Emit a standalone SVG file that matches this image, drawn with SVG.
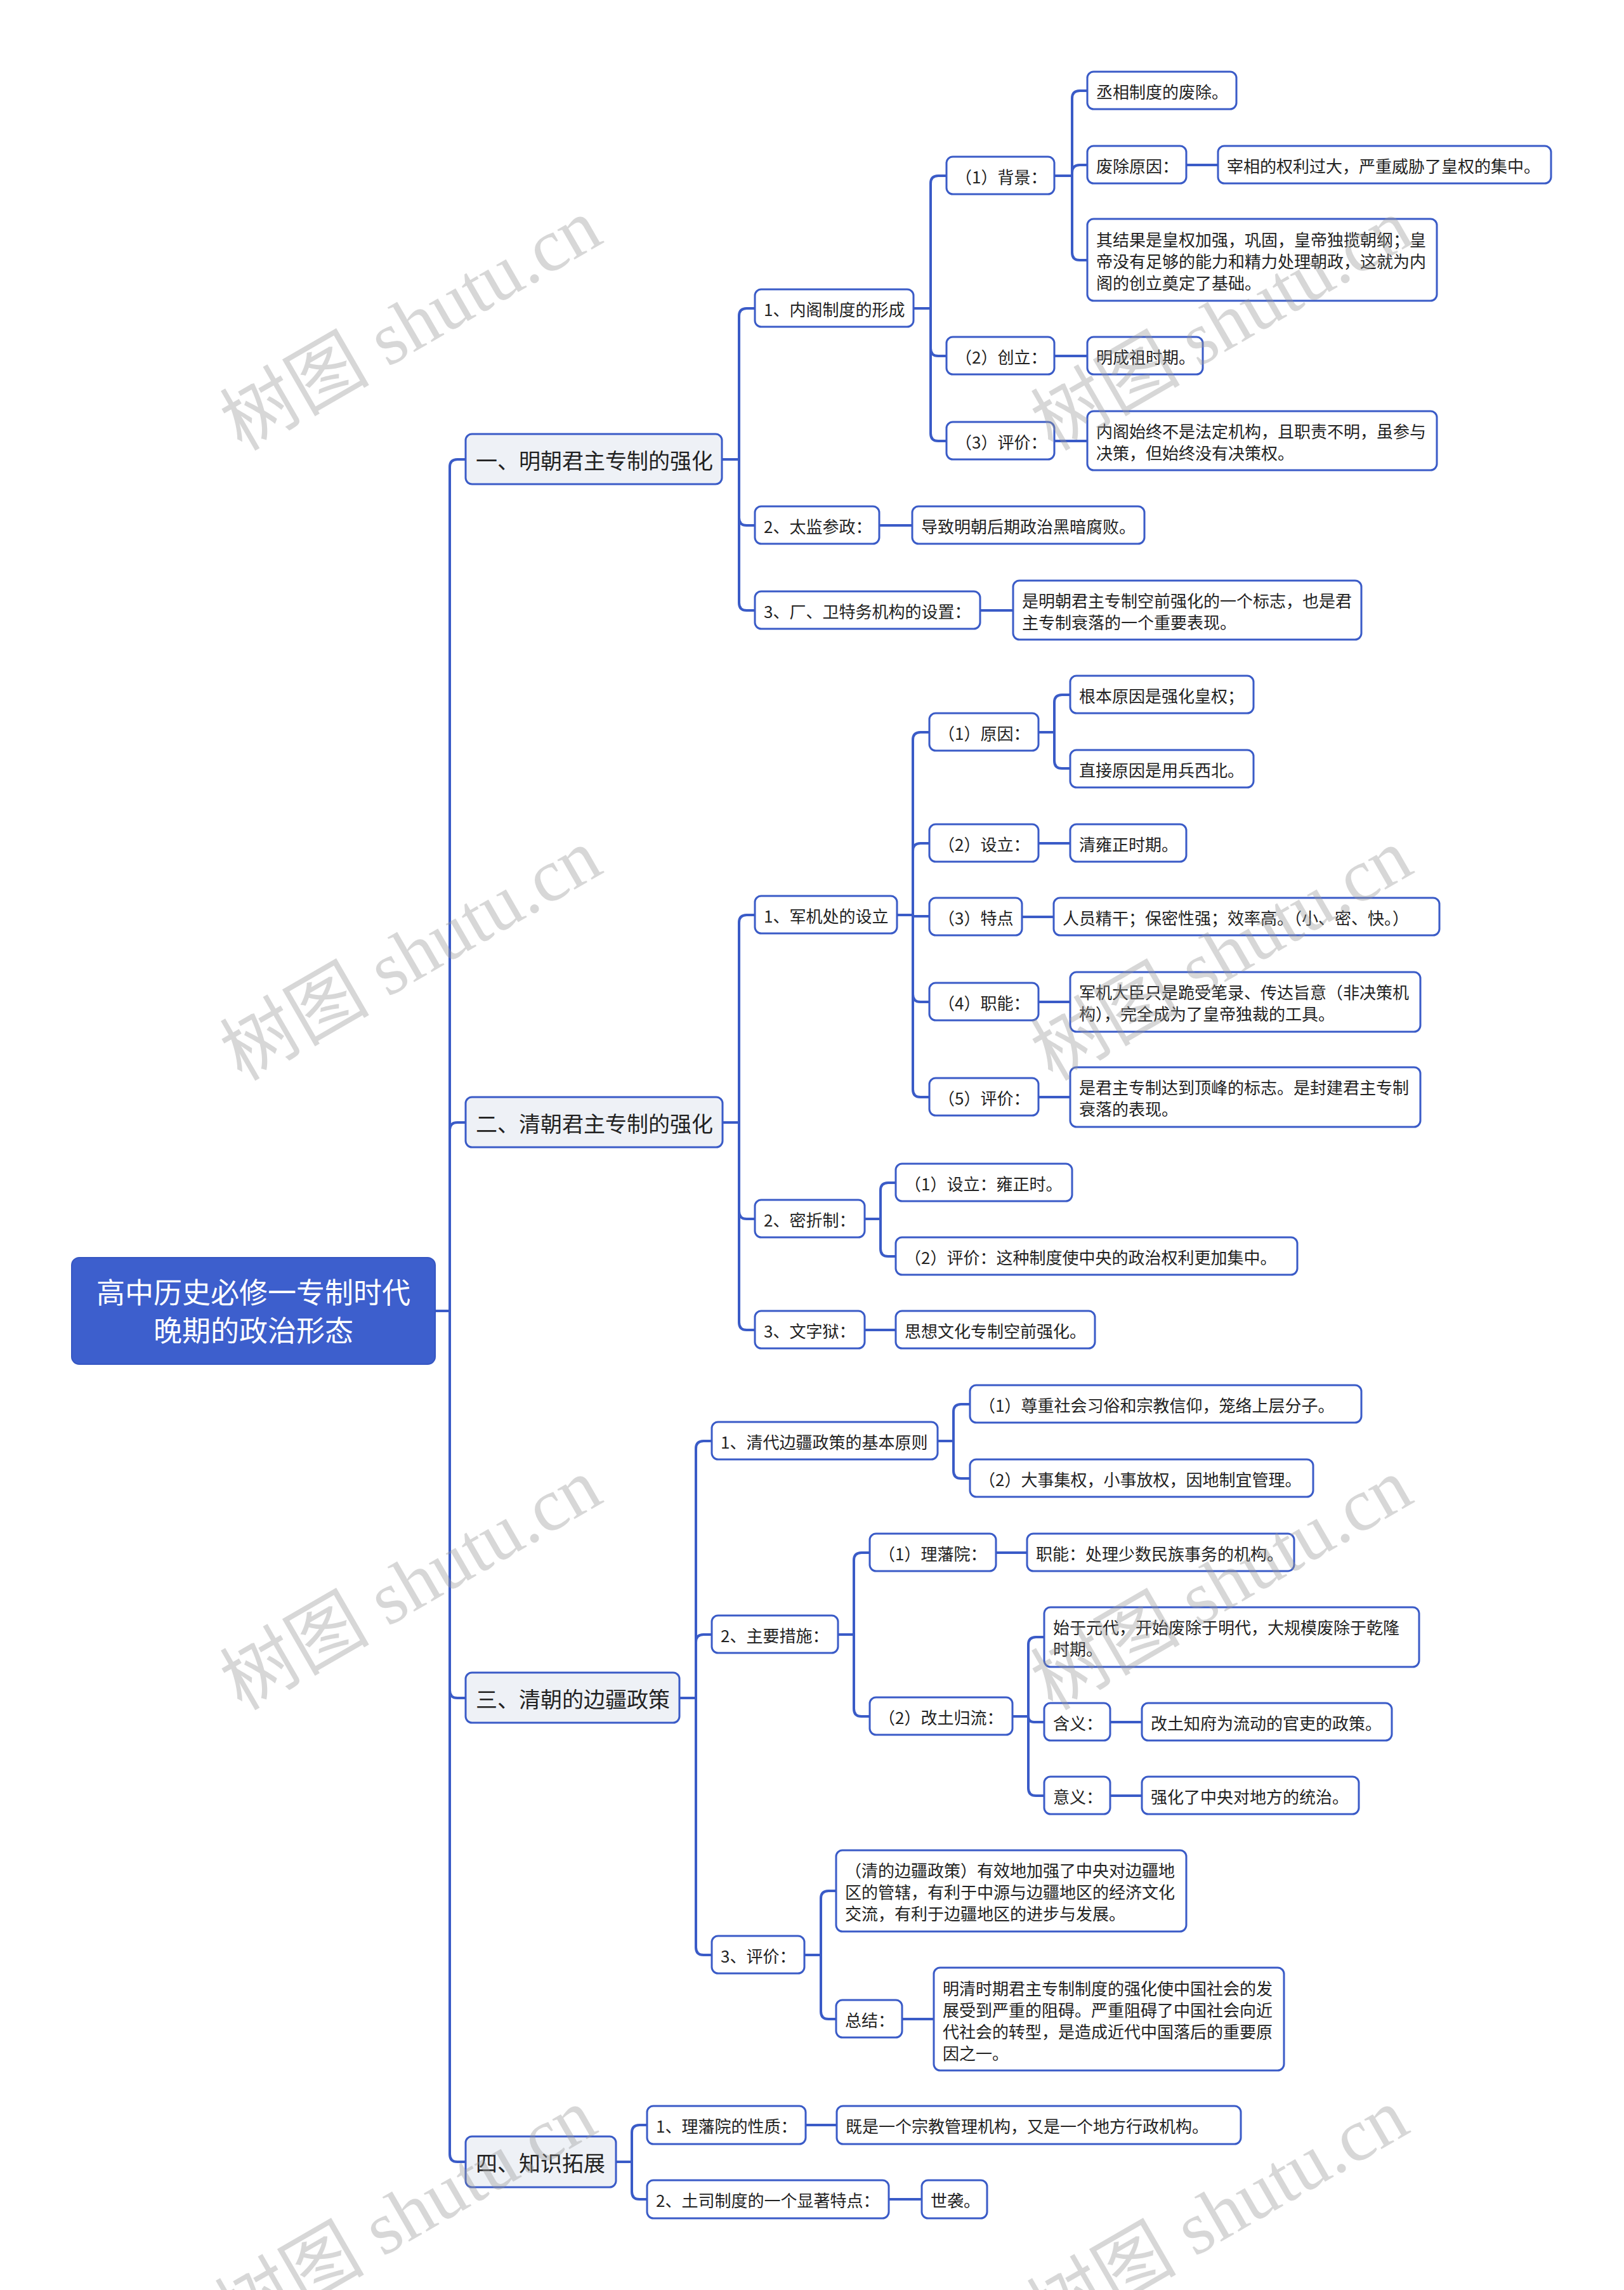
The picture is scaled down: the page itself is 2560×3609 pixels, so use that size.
<svg xmlns="http://www.w3.org/2000/svg" width="2560" height="3609" viewBox="0 0 2560 3609">
<style>
.ln{fill:none;stroke:#3a5bc7;stroke-width:4;stroke-linecap:round;stroke-linejoin:round}
.bx{fill:#ffffff;stroke:#3a5bc7;stroke-width:3}
.l1{fill:#eef1f6;stroke:#3a5bc7;stroke-width:3}
.rt{fill:#3d5fcd;stroke:#3556c2;stroke-width:2}
.t{font-family:"Noto Sans CJK SC","Microsoft YaHei",sans-serif;font-size:26px;fill:#222222;dominant-baseline:central}
.t1{font-size:34px}
.tr{font-size:45px;fill:#ffffff;text-anchor:middle}
.wm{font-family:"Liberation Serif","Noto Sans CJK SC",serif;font-size:118px;fill:#999999;opacity:0.38;text-anchor:middle;dominant-baseline:central}
</style>
<rect width="2560" height="3609" fill="#ffffff"/>
<g id="connectors">
<path class="ln" d="M686 2066H709"/>
<path class="ln" d="M709 2066V736Q709 724 721 724H734"/>
<path class="ln" d="M709 2066V1781Q709 1769 721 1769H734"/>
<path class="ln" d="M709 2066V2664Q709 2676 721 2676H734"/>
<path class="ln" d="M709 2066V3395Q709 3407 721 3407H734"/>
<path class="ln" d="M1138 724H1165"/>
<path class="ln" d="M1165 724V498Q1165 486 1177 486H1190"/>
<path class="ln" d="M1165 724V816Q1165 828 1177 828H1190"/>
<path class="ln" d="M1165 724V950Q1165 962 1177 962H1190"/>
<path class="ln" d="M1440 486H1467"/>
<path class="ln" d="M1467 486V289Q1467 277 1479 277H1492"/>
<path class="ln" d="M1467 486V549Q1467 561 1479 561H1492"/>
<path class="ln" d="M1467 486V683Q1467 695 1479 695H1492"/>
<path class="ln" d="M1662 277H1690"/>
<path class="ln" d="M1690 277V155Q1690 143 1702 143H1714"/>
<path class="ln" d="M1690 277V272Q1690 260 1702 260H1714"/>
<path class="ln" d="M1690 277V398Q1690 410 1702 410H1714"/>
<path class="ln" d="M1870 260H1920"/>
<path class="ln" d="M1662 561H1714"/>
<path class="ln" d="M1662 695H1714"/>
<path class="ln" d="M1386 828H1438"/>
<path class="ln" d="M1545 962H1597"/>
<path class="ln" d="M1139 1769H1165"/>
<path class="ln" d="M1165 1769V1454Q1165 1442 1177 1442H1190"/>
<path class="ln" d="M1165 1769V1909Q1165 1921 1177 1921H1190"/>
<path class="ln" d="M1165 1769V2084Q1165 2096 1177 2096H1190"/>
<path class="ln" d="M1414 1442H1439"/>
<path class="ln" d="M1439 1442V1166Q1439 1154 1451 1154H1465"/>
<path class="ln" d="M1439 1442V1341Q1439 1329 1451 1329H1465"/>
<path class="ln" d="M1439 1442V1444H1465"/>
<path class="ln" d="M1439 1442V1567Q1439 1579 1451 1579H1465"/>
<path class="ln" d="M1439 1442V1717Q1439 1729 1451 1729H1465"/>
<path class="ln" d="M1637 1154H1662"/>
<path class="ln" d="M1662 1154V1107Q1662 1095 1674 1095H1687"/>
<path class="ln" d="M1662 1154V1199Q1662 1211 1674 1211H1687"/>
<path class="ln" d="M1637 1329H1687"/>
<path class="ln" d="M1611 1445H1661"/>
<path class="ln" d="M1637 1579H1687"/>
<path class="ln" d="M1637 1729H1687"/>
<path class="ln" d="M1363 1921H1388"/>
<path class="ln" d="M1388 1921V1876Q1388 1864 1400 1864H1412"/>
<path class="ln" d="M1388 1921V1968Q1388 1980 1400 1980H1412"/>
<path class="ln" d="M1363 2096H1412"/>
<path class="ln" d="M1071 2676H1097"/>
<path class="ln" d="M1097 2676V2283Q1097 2271 1109 2271H1122"/>
<path class="ln" d="M1097 2676V2588Q1097 2576 1109 2576H1122"/>
<path class="ln" d="M1097 2676V3069Q1097 3081 1109 3081H1122"/>
<path class="ln" d="M1478 2271H1503"/>
<path class="ln" d="M1503 2271V2225Q1503 2213 1515 2213H1529"/>
<path class="ln" d="M1503 2271V2318Q1503 2330 1515 2330H1529"/>
<path class="ln" d="M1321 2576H1346"/>
<path class="ln" d="M1346 2576V2459Q1346 2447 1358 2447H1371"/>
<path class="ln" d="M1346 2576V2693Q1346 2705 1358 2705H1371"/>
<path class="ln" d="M1570 2447H1619"/>
<path class="ln" d="M1596 2705H1621"/>
<path class="ln" d="M1621 2705V2592Q1621 2580 1633 2580H1646"/>
<path class="ln" d="M1621 2705Q1621 2714 1630 2714H1646"/>
<path class="ln" d="M1621 2705V2818Q1621 2830 1633 2830H1646"/>
<path class="ln" d="M1750 2714H1800"/>
<path class="ln" d="M1750 2830H1800"/>
<path class="ln" d="M1268 3081H1294"/>
<path class="ln" d="M1294 3081V2992Q1294 2980 1306 2980H1318"/>
<path class="ln" d="M1294 3081V3170Q1294 3182 1306 3182H1318"/>
<path class="ln" d="M1422 3182H1472"/>
<path class="ln" d="M971 3407H996"/>
<path class="ln" d="M996 3407V3361Q996 3349 1008 3349H1020"/>
<path class="ln" d="M996 3407V3454Q996 3466 1008 3466H1020"/>
<path class="ln" d="M1270 3349H1319"/>
<path class="ln" d="M1401 3466H1453"/>
</g>
<g id="root"><rect class="rt" x="113" y="1982" width="573" height="168" rx="12"/><text class="t tr" x="399.5" y="2034">高中历史必修一专制时代</text><text class="t tr" x="399.5" y="2094">晚期的政治形态</text></g>
<g id="n1"><rect class="l1" x="734" y="684" width="404" height="79" rx="10"/><text class="t t1" x="750" y="724">一、明朝君主专制的强化</text></g>
<g id="n2"><rect class="l1" x="734" y="1729" width="405" height="79" rx="10"/><text class="t t1" x="750" y="1769">二、清朝君主专制的强化</text></g>
<g id="n3"><rect class="l1" x="734" y="2636" width="337" height="79" rx="10"/><text class="t t1" x="750" y="2676">三、清朝的边疆政策</text></g>
<g id="n4"><rect class="l1" x="734" y="3367" width="237" height="80" rx="10"/><text class="t t1" x="750" y="3407">四、知识拓展</text></g>
<g id="n1-1"><rect class="bx" x="1190" y="456" width="250" height="59" rx="10"/><text class="t" x="1204" y="486">1、内阁制度的形成</text></g>
<g id="n1-2"><rect class="bx" x="1190" y="798" width="196" height="59" rx="10"/><text class="t" x="1204" y="828">2、太监参政：</text></g>
<g id="n1-3"><rect class="bx" x="1190" y="932" width="355" height="59" rx="10"/><text class="t" x="1204" y="962">3、厂、卫特务机构的设置：</text></g>
<g id="n1-1-1"><rect class="bx" x="1492" y="247" width="170" height="59" rx="10"/><text class="t" x="1506" y="277">（1）背景：</text></g>
<g id="n1-1-2"><rect class="bx" x="1492" y="531" width="170" height="59" rx="10"/><text class="t" x="1506" y="561">（2）创立：</text></g>
<g id="n1-1-3"><rect class="bx" x="1492" y="665" width="170" height="59" rx="10"/><text class="t" x="1506" y="695">（3）评价：</text></g>
<g id="n1-1-1-1"><rect class="bx" x="1714" y="113" width="235" height="59" rx="10"/><text class="t" x="1728" y="143">丞相制度的废除。</text></g>
<g id="n1-1-1-2"><rect class="bx" x="1714" y="230" width="156" height="59" rx="10"/><text class="t" x="1728" y="260">废除原因：</text></g>
<g id="n1-1-1-2-1"><rect class="bx" x="1920" y="230" width="525" height="59" rx="10"/><text class="t" x="1934" y="260">宰相的权利过大，严重威胁了皇权的集中。</text></g>
<g id="n1-1-1-3"><rect class="bx" x="1714" y="345" width="551" height="129" rx="10"/><text class="t" x="1728" y="376">其结果是皇权加强，巩固，皇帝独揽朝纲；皇</text><text class="t" x="1728" y="410">帝没有足够的能力和精力处理朝政，这就为内</text><text class="t" x="1728" y="444">阁的创立奠定了基础。</text></g>
<g id="n1-1-2-1"><rect class="bx" x="1714" y="531" width="182" height="59" rx="10"/><text class="t" x="1728" y="561">明成祖时期。</text></g>
<g id="n1-1-3-1"><rect class="bx" x="1714" y="648" width="551" height="93" rx="10"/><text class="t" x="1728" y="678">内阁始终不是法定机构，且职责不明，虽参与</text><text class="t" x="1728" y="712">决策，但始终没有决策权。</text></g>
<g id="n1-2-1"><rect class="bx" x="1438" y="798" width="366" height="59" rx="10"/><text class="t" x="1452" y="828">导致明朝后期政治黑暗腐败。</text></g>
<g id="n1-3-1"><rect class="bx" x="1597" y="915" width="549" height="93" rx="10"/><text class="t" x="1611" y="945">是明朝君主专制空前强化的一个标志，也是君</text><text class="t" x="1611" y="979">主专制衰落的一个重要表现。</text></g>
<g id="n2-1"><rect class="bx" x="1190" y="1412" width="224" height="59" rx="10"/><text class="t" x="1204" y="1442">1、军机处的设立</text></g>
<g id="n2-2"><rect class="bx" x="1190" y="1891" width="173" height="59" rx="10"/><text class="t" x="1204" y="1921">2、密折制：</text></g>
<g id="n2-3"><rect class="bx" x="1190" y="2066" width="173" height="59" rx="10"/><text class="t" x="1204" y="2096">3、文字狱：</text></g>
<g id="n2-1-1"><rect class="bx" x="1465" y="1124" width="172" height="59" rx="10"/><text class="t" x="1479" y="1154">（1）原因：</text></g>
<g id="n2-1-2"><rect class="bx" x="1465" y="1299" width="172" height="59" rx="10"/><text class="t" x="1479" y="1329">（2）设立：</text></g>
<g id="n2-1-3"><rect class="bx" x="1465" y="1415" width="146" height="59" rx="10"/><text class="t" x="1479" y="1445">（3）特点</text></g>
<g id="n2-1-4"><rect class="bx" x="1465" y="1549" width="172" height="59" rx="10"/><text class="t" x="1479" y="1579">（4）职能：</text></g>
<g id="n2-1-5"><rect class="bx" x="1465" y="1699" width="172" height="59" rx="10"/><text class="t" x="1479" y="1729">（5）评价：</text></g>
<g id="n2-1-1-1"><rect class="bx" x="1687" y="1065" width="289" height="59" rx="10"/><text class="t" x="1701" y="1095">根本原因是强化皇权；</text></g>
<g id="n2-1-1-2"><rect class="bx" x="1687" y="1182" width="289" height="59" rx="10"/><text class="t" x="1701" y="1212">直接原因是用兵西北。</text></g>
<g id="n2-1-2-1"><rect class="bx" x="1687" y="1299" width="183" height="59" rx="10"/><text class="t" x="1701" y="1329">清雍正时期。</text></g>
<g id="n2-1-3-1"><rect class="bx" x="1661" y="1415" width="608" height="59" rx="10"/><text class="t" x="1675" y="1445">人员精干；保密性强；效率高。（小、密、快。）</text></g>
<g id="n2-1-4-1"><rect class="bx" x="1687" y="1532" width="552" height="94" rx="10"/><text class="t" x="1701" y="1562">军机大臣只是跪受笔录、传达旨意（非决策机</text><text class="t" x="1701" y="1596">构），完全成为了皇帝独裁的工具。</text></g>
<g id="n2-1-5-1"><rect class="bx" x="1687" y="1682" width="552" height="94" rx="10"/><text class="t" x="1701" y="1712">是君主专制达到顶峰的标志。是封建君主专制</text><text class="t" x="1701" y="1746">衰落的表现。</text></g>
<g id="n2-2-1"><rect class="bx" x="1412" y="1834" width="278" height="59" rx="10"/><text class="t" x="1426" y="1864">（1）设立：雍正时。</text></g>
<g id="n2-2-2"><rect class="bx" x="1412" y="1950" width="633" height="59" rx="10"/><text class="t" x="1426" y="1980">（2）评价：这种制度使中央的政治权利更加集中。</text></g>
<g id="n2-3-1"><rect class="bx" x="1412" y="2066" width="314" height="59" rx="10"/><text class="t" x="1426" y="2096">思想文化专制空前强化。</text></g>
<g id="n3-1"><rect class="bx" x="1122" y="2241" width="356" height="59" rx="10"/><text class="t" x="1136" y="2271">1、清代边疆政策的基本原则</text></g>
<g id="n3-2"><rect class="bx" x="1122" y="2546" width="199" height="59" rx="10"/><text class="t" x="1136" y="2576">2、主要措施：</text></g>
<g id="n3-3"><rect class="bx" x="1122" y="3051" width="146" height="59" rx="10"/><text class="t" x="1136" y="3081">3、评价：</text></g>
<g id="n3-1-1"><rect class="bx" x="1529" y="2183" width="617" height="59" rx="10"/><text class="t" x="1543" y="2213">（1）尊重社会习俗和宗教信仰，笼络上层分子。</text></g>
<g id="n3-1-2"><rect class="bx" x="1529" y="2300" width="541" height="59" rx="10"/><text class="t" x="1543" y="2330">（2）大事集权，小事放权，因地制宜管理。</text></g>
<g id="n3-2-1"><rect class="bx" x="1371" y="2417" width="199" height="59" rx="10"/><text class="t" x="1385" y="2447">（1）理藩院：</text></g>
<g id="n3-2-1-1"><rect class="bx" x="1619" y="2417" width="421" height="59" rx="10"/><text class="t" x="1633" y="2447">职能：处理少数民族事务的机构。</text></g>
<g id="n3-2-2"><rect class="bx" x="1371" y="2675" width="225" height="59" rx="10"/><text class="t" x="1385" y="2705">（2）改土归流：</text></g>
<g id="n3-2-2-1"><rect class="bx" x="1646" y="2533" width="591" height="94" rx="10"/><text class="t" x="1660" y="2563">始于元代，开始废除于明代，大规模废除于乾隆</text><text class="t" x="1660" y="2597">时期。</text></g>
<g id="n3-2-2-2"><rect class="bx" x="1646" y="2684" width="104" height="59" rx="10"/><text class="t" x="1660" y="2714">含义：</text></g>
<g id="n3-2-2-2-1"><rect class="bx" x="1800" y="2684" width="394" height="59" rx="10"/><text class="t" x="1814" y="2714">改土知府为流动的官吏的政策。</text></g>
<g id="n3-2-2-3"><rect class="bx" x="1646" y="2800" width="104" height="59" rx="10"/><text class="t" x="1660" y="2830">意义：</text></g>
<g id="n3-2-2-3-1"><rect class="bx" x="1800" y="2800" width="342" height="59" rx="10"/><text class="t" x="1814" y="2830">强化了中央对地方的统治。</text></g>
<g id="n3-3-1"><rect class="bx" x="1318" y="2916" width="552" height="128" rx="10"/><text class="t" x="1332" y="2946">（清的边疆政策）有效地加强了中央对边疆地</text><text class="t" x="1332" y="2980">区的管辖，有利于中源与边疆地区的经济文化</text><text class="t" x="1332" y="3014">交流，有利于边疆地区的进步与发展。</text></g>
<g id="n3-3-2"><rect class="bx" x="1318" y="3152" width="104" height="59" rx="10"/><text class="t" x="1332" y="3182">总结：</text></g>
<g id="n3-3-2-1"><rect class="bx" x="1472" y="3101" width="552" height="162" rx="10"/><text class="t" x="1486" y="3132">明清时期君主专制制度的强化使中国社会的发</text><text class="t" x="1486" y="3166">展受到严重的阻碍。严重阻碍了中国社会向近</text><text class="t" x="1486" y="3200">代社会的转型，是造成近代中国落后的重要原</text><text class="t" x="1486" y="3234">因之一。</text></g>
<g id="n4-1"><rect class="bx" x="1020" y="3319" width="250" height="60" rx="10"/><text class="t" x="1034" y="3349">1、理藩院的性质：</text></g>
<g id="n4-1-1"><rect class="bx" x="1319" y="3319" width="637" height="60" rx="10"/><text class="t" x="1333" y="3349">既是一个宗教管理机构，又是一个地方行政机构。</text></g>
<g id="n4-2"><rect class="bx" x="1020" y="3436" width="381" height="60" rx="10"/><text class="t" x="1034" y="3466">2、土司制度的一个显著特点：</text></g>
<g id="n4-2-1"><rect class="bx" x="1453" y="3436" width="103" height="60" rx="10"/><text class="t" x="1467" y="3466">世袭。</text></g>
<g id="watermarks">
<text class="wm" x="648" y="512" transform="rotate(-30 648 512)">树图 shutu.cn</text>
<text class="wm" x="1926" y="512" transform="rotate(-30 1926 512)">树图 shutu.cn</text>
<text class="wm" x="648" y="1505" transform="rotate(-30 648 1505)">树图 shutu.cn</text>
<text class="wm" x="1926" y="1505" transform="rotate(-30 1926 1505)">树图 shutu.cn</text>
<text class="wm" x="648" y="2497" transform="rotate(-30 648 2497)">树图 shutu.cn</text>
<text class="wm" x="1926" y="2497" transform="rotate(-30 1926 2497)">树图 shutu.cn</text>
<text class="wm" x="640" y="3490" transform="rotate(-30 640 3490)">树图 shutu.cn</text>
<text class="wm" x="1920" y="3490" transform="rotate(-30 1920 3490)">树图 shutu.cn</text>
</g>
</svg>
